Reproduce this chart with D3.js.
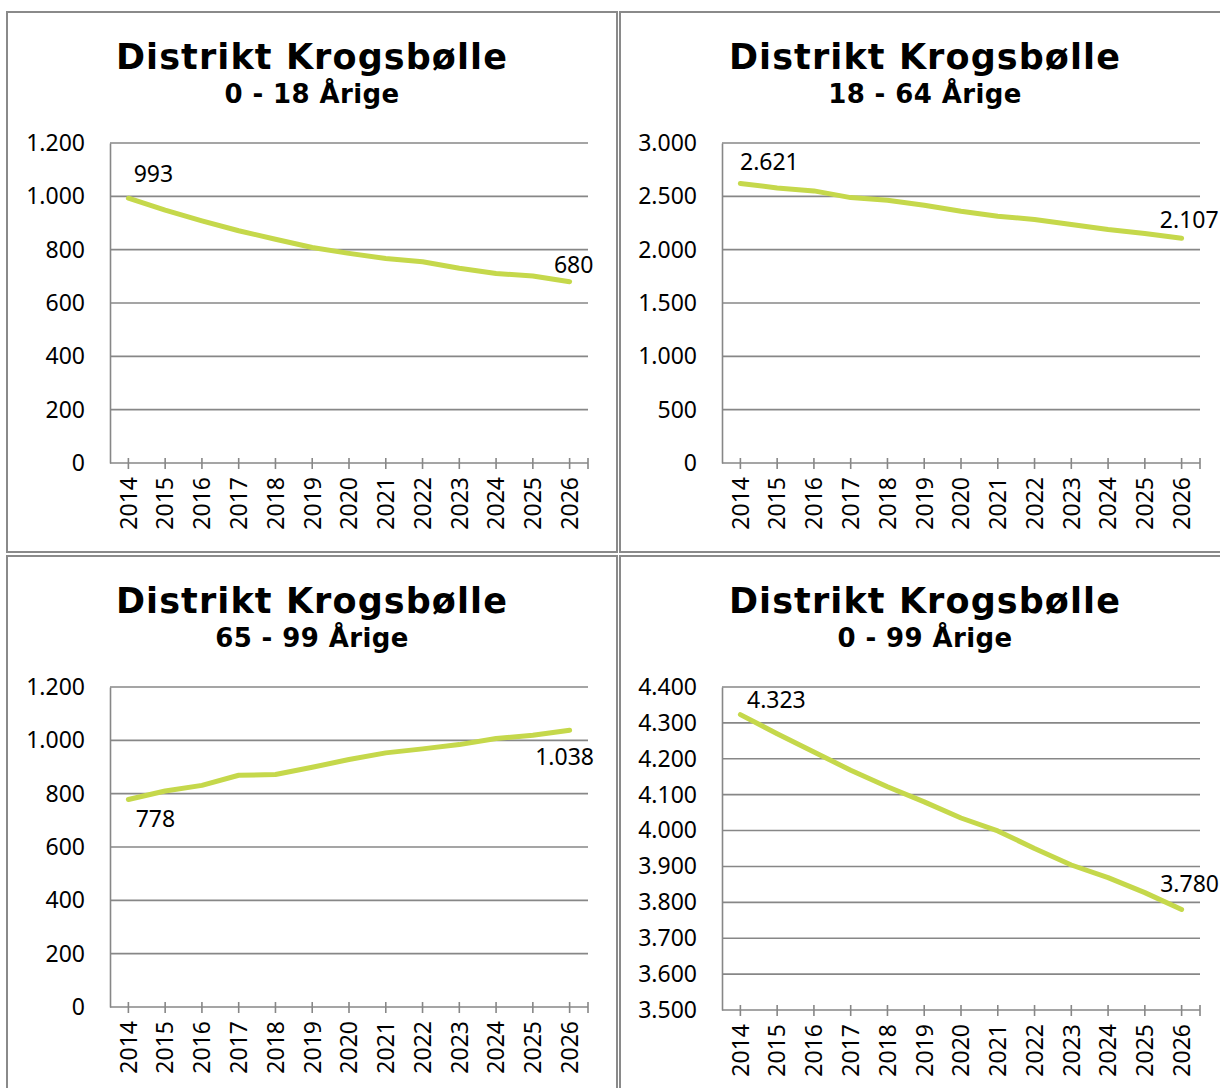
<!DOCTYPE html>
<html>
<head>
<meta charset="utf-8">
<script src="https://cdn.jsdelivr.net/npm/d3@7"></script>
<style>
  html, body { margin: 0; padding: 0; background: #fff; }
  svg { display: block; }
</style>
</head>
<body>
<svg id="chart" width="1220" height="1088"></svg>
<script>
// ---------- DATA ----------
const years = ["2014","2015","2016","2017","2018","2019","2020","2021","2022","2023","2024","2025","2026"];

const title = "Distrikt Krogsbølle";
const subtitles = ["0 - 18 Årige", "18 - 64 Årige", "65 - 99 Årige", "0 - 99 Årige"];

const age0to18  = [993, 948, 908, 871, 839, 808, 786, 767, 755, 730, 711, 701, 680];
const age18to64 = [2621, 2579, 2551, 2488, 2463, 2417, 2360, 2314, 2283, 2236, 2189, 2152, 2107];
const age65to99 = [778, 810, 831, 869, 872, 899, 928, 953, 968, 984, 1007, 1019, 1038];
const age0to99  = [4323, 4270, 4219, 4168, 4122, 4080, 4035, 3999, 3950, 3904, 3869, 3827, 3780];

const yTicks0to18  = [0, 200, 400, 600, 800, 1000, 1200];
const yTicks18to64 = [0, 500, 1000, 1500, 2000, 2500, 3000];
const yTicks65to99 = [0, 200, 400, 600, 800, 1000, 1200];
const yTicks0to99  = [3500, 3600, 3700, 3800, 3900, 4000, 4100, 4200, 4300, 4400];

// ---------- STYLE / LAYOUT ----------
const lineColor = "#c5d84b";
const gridColor = "#878787";
const tickFont = "'Noto Sans', 'Open Sans', sans-serif";
const titleFont = "'DejaVu Sans', Verdana, sans-serif";

const loc = d3.formatLocale({decimal: ",", thousands: ".", grouping: [3], currency: ["", ""]});
const fmt = loc.format(",d");

const panels = [
  {x: 7,   y: 12,  values: age0to18,  ticks: yTicks0to18,  sub: subtitles[0],
   plot: {l: 110, r: 588, t: 143, b: 463},
   labels: [{i: 0, dx: 25, dy: -16, anchor: "middle"}, {i: 12, dx: 4, dy: -9, anchor: "middle"}]},
  {x: 620, y: 12,  values: age18to64, ticks: yTicks18to64, sub: subtitles[1],
   plot: {l: 722, r: 1200, t: 143, b: 463},
   labels: [{i: 0, dx: 29, dy: -13, anchor: "middle"}, {i: 12, dx: 37, dy: -10, anchor: "end"}]},
  {x: 7,   y: 556, values: age65to99, ticks: yTicks65to99, sub: subtitles[2],
   plot: {l: 110, r: 588, t: 687, b: 1007},
   labels: [{i: 0, dx: 27, dy: 27, anchor: "middle"}, {i: 12, dx: -5, dy: 35, anchor: "middle"}]},
  {x: 620, y: 556, values: age0to99,  ticks: yTicks0to99,  sub: subtitles[3],
   plot: {l: 722, r: 1200, t: 687, b: 1010},
   labels: [{i: 0, dx: 36, dy: -7, anchor: "middle"}, {i: 12, dx: 8, dy: -18, anchor: "middle"}]}
];
const panelW = 610, panelH = 540;

const svg = d3.select("#chart");

panels.forEach(p => {
  const g = svg.append("g");

  // panel border
  g.append("rect")
    .attr("x", p.x).attr("y", p.y)
    .attr("width", panelW).attr("height", panelH)
    .attr("fill", "#fff")
    .attr("stroke", "#8a8a8a").attr("stroke-width", 2);

  const cx = p.x + panelW / 2;
  g.append("text")
    .attr("x", cx).attr("y", p.y + 57)
    .attr("text-anchor", "middle")
    .attr("font-family", titleFont).attr("font-weight", "bold")
    .attr("font-size", 35).attr("letter-spacing", 1.1).attr("fill", "#000")
    .text(title);
  g.append("text")
    .attr("x", cx).attr("y", p.y + 91)
    .attr("text-anchor", "middle")
    .attr("font-family", titleFont).attr("font-weight", "bold")
    .attr("font-size", 26).attr("letter-spacing", 0.4).attr("fill", "#000")
    .text(p.sub);

  const x = d3.scalePoint().domain(years).range([p.plot.l, p.plot.r]).padding(0.5);
  const y = d3.scaleLinear()
    .domain([p.ticks[0], p.ticks[p.ticks.length - 1]])
    .range([p.plot.b, p.plot.t]);

  // gridlines
  g.append("g").selectAll("line").data(p.ticks).join("line")
    .attr("x1", p.plot.l).attr("x2", p.plot.r)
    .attr("y1", d => y(d)).attr("y2", d => y(d))
    .attr("stroke", gridColor).attr("stroke-width", 1.6);

  // y axis with labels
  const yAxis = d3.axisLeft(y).tickValues(p.ticks).tickFormat(fmt).tickSize(0).tickPadding(25);
  const ya = g.append("g").attr("transform", `translate(${p.plot.l},0)`).call(yAxis);
  ya.select(".domain").attr("stroke", gridColor).attr("stroke-width", 1.6);
  ya.selectAll("text")
    .attr("font-family", tickFont).attr("font-size", 23).attr("fill", "#000");

  // x axis ticks (at category centers plus axis end)
  const tickXs = years.map(d => x(d)).concat([p.plot.r]);
  g.append("g").selectAll("line").data(tickXs).join("line")
    .attr("x1", d => d).attr("x2", d => d)
    .attr("y1", p.plot.b - 5).attr("y2", p.plot.b + 6)
    .attr("stroke", gridColor).attr("stroke-width", 1.6);

  // x labels rotated
  g.append("g").selectAll("text").data(years).join("text")
    .attr("transform", d => `translate(${x(d)},${p.plot.b + 14}) rotate(-90)`)
    .attr("text-anchor", "end")
    .attr("dy", "0.36em")
    .attr("font-family", tickFont).attr("font-size", 23).attr("fill", "#000")
    .text(d => d);

  // line
  const line = d3.line().x((d, i) => x(years[i])).y(d => y(d));
  g.append("path").datum(p.values)
    .attr("d", line)
    .attr("fill", "none")
    .attr("stroke", lineColor).attr("stroke-width", 5)
    .attr("stroke-linejoin", "round").attr("stroke-linecap", "round");

  // data labels
  p.labels.forEach(l => {
    g.append("text")
      .attr("x", x(years[l.i]) + l.dx)
      .attr("y", y(p.values[l.i]) + l.dy)
      .attr("text-anchor", l.anchor)
      .attr("font-family", tickFont).attr("font-size", 23).attr("fill", "#000")
      .text(fmt(p.values[l.i]));
  });
});
</script>
</body>
</html>
